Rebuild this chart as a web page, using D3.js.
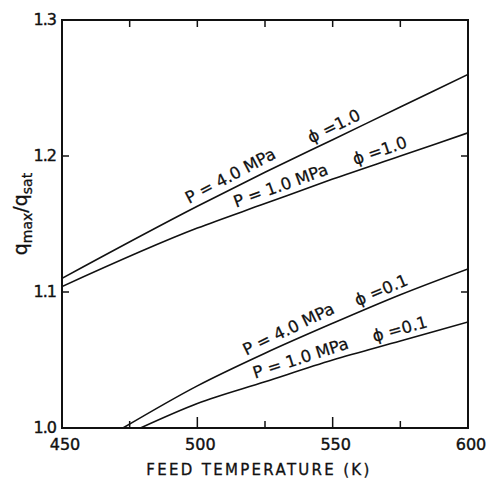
<!DOCTYPE html>
<html>
<head>
<meta charset="utf-8">
<script src="https://cdn.jsdelivr.net/npm/d3@7"></script>
<style>
  body { margin: 0; background: #fff; }
  text { font-family: "DejaVu Sans", sans-serif; fill: #111; }
</style>
</head>
<body>
<div id="chart"></div>
<script>
// feed temperature (K) -> q_max / q_sat
const tempsHigh = [450, 500, 525, 550, 575, 600]
const p4phi10 = [1.110, 1.163, 1.188, 1.212, 1.236, 1.260]
const p1phi10 = [1.104, 1.147, 1.165, 1.183, 1.200, 1.217]

const tempsP4Low = [472.5, 500, 525, 550, 575, 600]
const p4phi01 = [1.0, 1.031, 1.055, 1.077, 1.098, 1.117]
const tempsP1Low = [479, 500, 525, 550, 575, 600]
const p1phi01 = [1.0, 1.018, 1.034, 1.050, 1.064, 1.078]

const xTicks = [450, 500, 550, 600]
const xMinor = [475, 525, 575]
const yTicks = [1.0, 1.1, 1.2, 1.3]

const series = [
  {t: tempsHigh, q: p4phi10, p: 'P = 4.0 MPa', phi: '\u03D5 =1.0', tp: 498, tphi: 543},
  {t: tempsHigh, q: p1phi10, p: 'P = 1.0 MPa', phi: '\u03D5 =1.0', tp: 515, tphi: 559},
  {t: tempsP4Low, q: p4phi01, p: 'P = 4.0 MPa', phi: '\u03D5 =0.1', tp: 519, tphi: 560},
  {t: tempsP1Low, q: p1phi01, p: 'P = 1.0 MPa', phi: '\u03D5 =0.1', tp: 522, tphi: 566}
]

const W = 486, H = 483
const margin = {top: 20, right: 18, bottom: 55, left: 62}
const width = W - margin.left - margin.right
const height = H - margin.top - margin.bottom

const svg = d3.select('#chart').append('svg')
  .attr('width', W).attr('height', H)
const g = svg.append('g')
  .attr('transform', 'translate(' + margin.left + ',' + margin.top + ')')

const x = d3.scaleLinear().domain([450, 600]).range([0, width])
const y = d3.scaleLinear().domain([1.0, 1.3]).range([height, 0])

g.append('clipPath').attr('id', 'clip')
  .append('rect').attr('width', width).attr('height', height)

// ticks, all pointing inwards
const tickG = g.append('g').attr('stroke', '#111').attr('stroke-width', 1.5)
xTicks.forEach(v => {
  tickG.append('line').attr('x1', x(v)).attr('x2', x(v)).attr('y1', height).attr('y2', height - 11)
  tickG.append('line').attr('x1', x(v)).attr('x2', x(v)).attr('y1', 0).attr('y2', 7)
})
xMinor.forEach(v => {
  tickG.append('line').attr('x1', x(v)).attr('x2', x(v)).attr('y1', height).attr('y2', height - 7)
  tickG.append('line').attr('x1', x(v)).attr('x2', x(v)).attr('y1', 0).attr('y2', 7)
})
yTicks.forEach(v => {
  tickG.append('line').attr('x1', 0).attr('x2', 7).attr('y1', y(v)).attr('y2', y(v))
  tickG.append('line').attr('x1', width).attr('x2', width - 7).attr('y1', y(v)).attr('y2', y(v))
})

g.append('rect')
  .attr('width', width).attr('height', height)
  .attr('fill', 'none').attr('stroke', '#111').attr('stroke-width', 2)

g.selectAll('.xlab').data(xTicks).enter().append('text')
  .attr('class', 'xlab')
  .attr('x', d => x(d) + 3).attr('y', height + 22)
  .attr('text-anchor', 'middle')
  .style('font-size', '16px')
  .style('stroke', '#111').style('stroke-width', 0.4)
  .text(d => d)

g.selectAll('.ylab').data(yTicks).enter().append('text')
  .attr('class', 'ylab')
  .attr('x', -6).attr('y', d => y(d) + 5)
  .attr('text-anchor', 'end')
  .style('font-size', '16px')
  .style('letter-spacing', '-1px')
  .style('stroke', '#111').style('stroke-width', 0.4)
  .text(d => d.toFixed(1))

svg.append('text')
  .attr('x', 259).attr('y', 475)
  .attr('text-anchor', 'middle')
  .style('font-size', '15px')
  .style('letter-spacing', '2.3px')
  .style('stroke', '#111').style('stroke-width', 0.3)
  .text('FEED TEMPERATURE  (K)')

const yt = svg.append('text')
  .attr('transform', 'translate(27,214) rotate(-90)')
  .attr('text-anchor', 'middle')
  .style('font-size', '19px')
  .style('stroke', '#111').style('stroke-width', 0.3)
yt.append('tspan').text('q')
yt.append('tspan').attr('dy', 5).style('font-size', '14px').text('max')
yt.append('tspan').attr('dy', -5).text('/q')
yt.append('tspan').attr('dy', 5).style('font-size', '14px').text('sat')

const line = d3.line()
  .x(d => x(d[0])).y(d => y(d[1]))
  .curve(d3.curveMonotoneX)

series.forEach(s => {
  const pts = s.t.map((t, i) => [t, s.q[i]])
  g.append('path')
    .attr('clip-path', 'url(#clip)')
    .attr('d', line(pts))
    .attr('fill', 'none')
    .attr('stroke', '#111')
    .attr('stroke-width', 1.6)

  const interp = t => {
    const i = Math.max(1, d3.bisectLeft(s.t, t))
    const a = (t - s.t[i - 1]) / (s.t[i] - s.t[i - 1])
    return s.q[i - 1] + a * (s.q[i] - s.q[i - 1])
  }
  ;[[s.p, s.tp], [s.phi, s.tphi]].forEach(([txt, t]) => {
    const px = x(t), py = y(interp(t))
    const ang = Math.atan2(y(interp(t + 3)) - y(interp(t - 3)), x(t + 3) - x(t - 3)) * 180 / Math.PI
    g.append('text')
      .attr('transform', 'translate(' + px + ',' + py + ') rotate(' + ang + ')')
      .attr('y', -6)
      .style('font-size', '16.5px')
      .style('stroke', '#111').style('stroke-width', 0.25)
      .text(txt)
  })
})
</script>
</body>
</html>
